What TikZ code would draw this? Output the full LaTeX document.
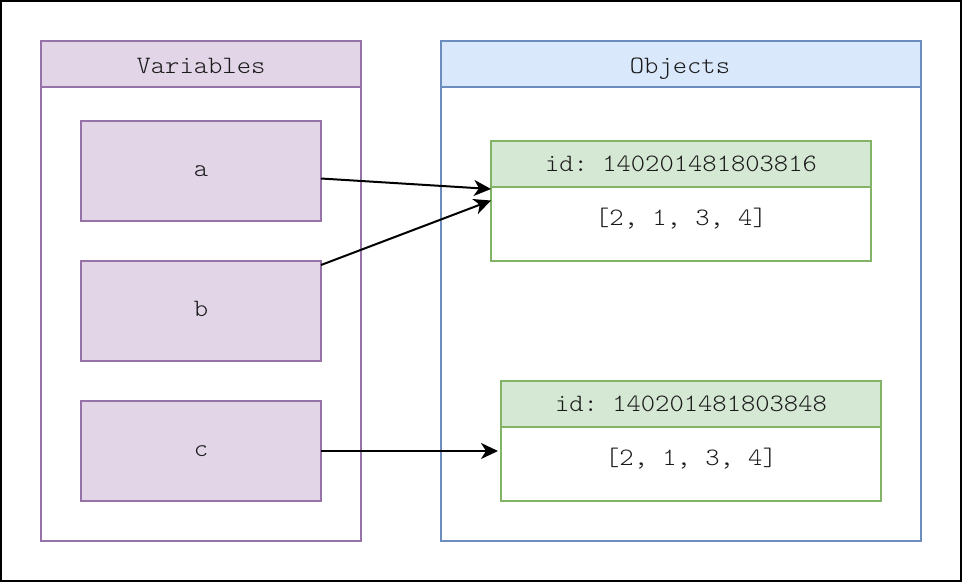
\documentclass[tikz,border=0pt]{standalone}
\usepackage{fontspec}
\setmonofont[FakeStretch=1.09]{Latin Modern Mono Light}
\usetikzlibrary{arrows.meta}
\definecolor{purfill}{HTML}{E1D5E7}
\definecolor{purline}{HTML}{9673A6}
\definecolor{bluefill}{HTML}{DAE8FC}
\definecolor{blueline}{HTML}{6C8EBF}
\definecolor{grnfill}{HTML}{D5E8D4}
\definecolor{grnline}{HTML}{82B366}
\definecolor{txt}{HTML}{1A1A1A}
\tikzset{
  lbl/.style={font=\ttfamily\fontsize{25}{28}\selectfont, text=txt, inner sep=0pt, anchor=base},
  pur/.style={draw=purline, line width=1.3pt},
  blu/.style={draw=blueline, line width=1.3pt},
  grn/.style={draw=grnline, line width=1.3pt},
  box/.style={minimum width=#1, anchor=north west, inner sep=0pt, outer sep=0pt},
  conn/.style={-{Stealth[length=17pt,width=16pt,inset=5pt]}, line width=2pt, black}
}
\begin{document}
\begin{tikzpicture}[x=1pt,y=-1pt]
\useasboundingbox (0,0) rectangle (962,582);
\draw[line width=2pt] (1,1) rectangle (961,581);
% Variables container
\draw[pur, fill=white] (41,41) rectangle (361,541);
\draw[pur, fill=purfill] (41,41) rectangle (361,87);
\node[lbl] (vt) at (201,73.5) {Variables};
% Objects container
\draw[blu, fill=white] (441,41) rectangle (921,541);
\draw[blu, fill=bluefill] (441,41) rectangle (921,87);
\node[lbl] (ot) at (680,73.5) {Objects};
% variable boxes
\node[pur, fill=purfill, box=240pt, minimum height=100pt] (a) at (81,121) {};
\node[lbl] (ta) at (201,176) {a};
\node[pur, fill=purfill, box=240pt, minimum height=100pt] (b) at (81,261) {};
\node[lbl] (tb) at (201,316) {b};
\node[pur, fill=purfill, box=240pt, minimum height=100pt] (c) at (81,401) {};
\node[lbl] (tc) at (201,456) {c};
% object 1
\node[grn, fill=white, box=380pt, minimum height=120pt] (o1) at (491,141) {};
\node[grn, fill=grnfill, box=380pt, minimum height=46pt] (o1h) at (491,141) {};
\node[lbl] (id1) at (681,171.5) {id: 140201481803816};
\node[lbl] (v1) at (681,225) {[2, 1, 3, 4]};
% object 2
\node[grn, fill=white, box=380pt, minimum height=120pt] (o2) at (501,381) {};
\node[grn, fill=grnfill, box=380pt, minimum height=46pt] (o2h) at (501,381) {};
\node[lbl] (id2) at (691,411.5) {id: 140201481803848};
\node[lbl] (v2) at (691,465) {[2, 1, 3, 4]};
% connectors
\draw[conn] ([yshift=-7.5pt]a.east) -- ([yshift=-2pt]o1h.south west);
\draw[conn] ([yshift=-4pt]b.north east) -- ([yshift=-13.5pt]o1h.south west);
\draw[conn] (c.east) -- ([xshift=-3pt]c.east -| o2.west);
\end{tikzpicture}
\end{document}
